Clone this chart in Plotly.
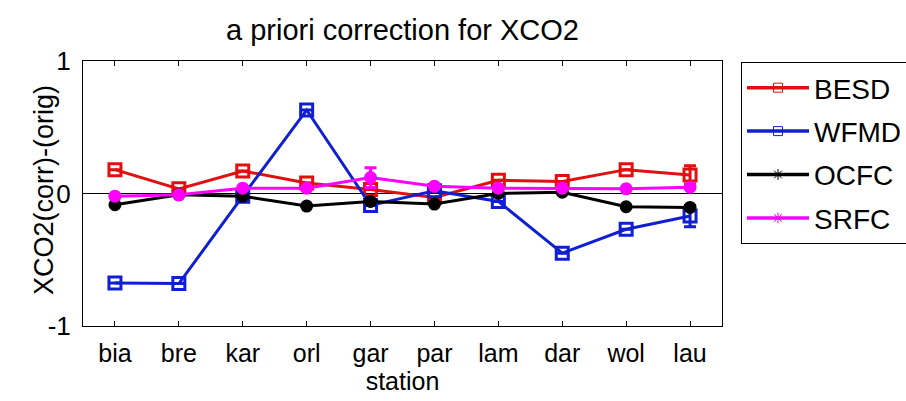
import plotly.graph_objects as go

# Stations along the x axis
stations = ["bia", "bre", "kar", "orl", "gar", "par", "lam", "dar", "wol", "lau"]

# XCO2 difference (corrected minus original) per product
besd = [0.18, 0.035, 0.17, 0.08, 0.03, -0.03, 0.10, 0.09, 0.18, 0.14]
wfmd = [-0.675, -0.68, -0.02, 0.63, -0.09, 0.02, -0.06, -0.45, -0.27, -0.17]
ocfc = [-0.085, -0.01, -0.02, -0.095, -0.06, -0.08, 0.0, 0.01, -0.10, -0.105]
srfc = [-0.02, -0.01, 0.04, 0.04, 0.12, 0.055, 0.04, 0.04, 0.035, 0.047]

# Uncertainties (only shown where available)
besd_err = [None, None, None, None, None, None, None, None, None, 0.07]
wfmd_err = [None, None, None, None, None, None, None, None, None, 0.08]
ocfc_err = [None] * 10
srfc_err = [None, None, None, None, 0.075, None, None, None, None, None]

x = list(range(1, len(stations) + 1))

series = [
    ("BESD", besd, besd_err, "#e01010", "square-open", "square-open"),
    ("WFMD", wfmd, wfmd_err, "#1020d0", "square-open", "square-open"),
    ("OCFC", ocfc, ocfc_err, "#000000", "circle", "asterisk-open"),
    ("SRFC", srfc, srfc_err, "#ff00ff", "circle", "asterisk-open"),
]

FONT = "Liberation Sans, Arial, sans-serif"

fig = go.Figure()
for name, vals, err, color, sym, legsym in series:
    fig.add_trace(go.Scatter(
        x=x, y=vals, mode="lines+markers", name=name, showlegend=False,
        line=dict(color=color, width=3),
        marker=dict(symbol=sym, size=12 if "square" in sym else 10, color=color,
                    line=dict(color=color, width=3)),
        error_y=dict(type="data", array=err, visible=True, color=color,
                     thickness=3, width=6),
    ))

# Legend entries with small markers
for name, vals, err, color, sym, legsym in series:
    fig.add_trace(go.Scatter(
        x=[None], y=[None], mode="lines+markers", name=name,
        legendgroup=name,
        line=dict(color=color, width=3.5),
        marker=dict(symbol=legsym, size=9, color=color,
                    line=dict(color=color, width=1)),
    ))

fig.update_layout(
    width=906, height=401,
    margin=dict(l=83, r=184, t=61, b=75),
    paper_bgcolor="white", plot_bgcolor="white",
    font=dict(family=FONT, color="black", size=25),
    title=dict(text="a priori correction for XCO2", x=402.5 / 906, xanchor="center",
               y=1 - 30 / 401, yanchor="middle", xref="container", yref="container",
               font=dict(size=29, family=FONT, color="black")),
    legend=dict(xref="container", yref="container",
                x=741 / 906, y=1 - 62 / 401, xanchor="left", yanchor="top",
                bordercolor="black", borderwidth=1, bgcolor="white",
                font=dict(size=28, family=FONT, color="black"),
                tracegroupgap=4, itemwidth=62),
    annotations=[dict(
        text="XCO2(corr)-(orig)", textangle=-90, showarrow=False,
        xref="paper", yref="paper", x=(44 - 83) / 639, y=(326 - 190) / 265,
        xanchor="center", yanchor="middle",
        font=dict(size=27, family=FONT, color="black"),
    )],
    showlegend=True,
)

fig.update_xaxes(
    range=[0.5, 10.5], tickvals=x, ticktext=stations,
    showline=True, linecolor="black", linewidth=1, mirror="ticks",
    ticks="inside", ticklen=5, tickcolor="black", showgrid=False, zeroline=False,
    tickfont=dict(size=25, family=FONT), ticklabelstandoff=5,
    title=dict(text="station", font=dict(size=25, family=FONT), standoff=0),
)
fig.update_yaxes(
    range=[-1, 1], tickvals=[-1, 0, 1], ticktext=["-1", "0", "1"],
    showline=True, linecolor="black", linewidth=1, mirror="ticks",
    ticks="inside", ticklen=5, tickcolor="black", showgrid=False,
    zeroline=True, zerolinecolor="black", zerolinewidth=1,
    tickfont=dict(size=26, family=FONT), ticklabelstandoff=6,
)

fig.write_html("out.html")
